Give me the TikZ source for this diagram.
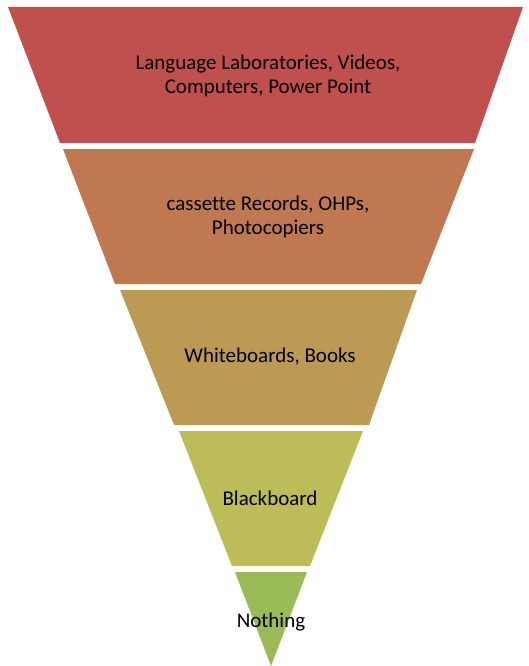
\documentclass[tikz,border=0pt]{standalone}
\usepackage{fontspec}
\setmainfont{Carlito}[Ligatures=CommonOff]

\definecolor{tierA}{HTML}{C0504D}
\definecolor{tierB}{HTML}{BF7850}
\definecolor{tierC}{HTML}{BD9A53}
\definecolor{tierD}{HTML}{BCBC58}
\definecolor{tierE}{HTML}{9BBB59}

\begin{document}
\begin{tikzpicture}[
    x=1pt, y=-1pt,
    band/.style={draw=none},
    tiertext/.style={align=center, text=black, inner sep=0pt, font=\fontsize{21}{24}\selectfont}
]
    \useasboundingbox (0,0) rectangle (528,666);

    % inverted pyramid, top band first
    \fill[band, tierA] (8,7) -- (523,7) -- (475,143) -- (60,143) -- cycle;
    \fill[band, tierB] (63,149) -- (474,149) -- (421,284) -- (115,284) -- cycle;
    \fill[band, tierC] (120,290) -- (417,290) -- (369,425) -- (174,425) -- cycle;
    \fill[band, tierD] (179,431) -- (363,431) -- (310,566) -- (232,566) -- cycle;
    \fill[band, tierE] (235,572) -- (307,572) -- (271,666) -- cycle;

    \node[tiertext] (modern) at (268,76) {Language Laboratories, Videos,\\Computers, Power Point};
    \node[tiertext] (media) at (268,217) {cassette Records, OHPs,\\Photocopiers};
    \node[tiertext] (boards) at (270,357) {Whiteboards, Books};
    \node[tiertext] (black) at (270,498) {Blackboard};
    \node[tiertext] (none) at (271,622) {Nothing};
\end{tikzpicture}
\end{document}
